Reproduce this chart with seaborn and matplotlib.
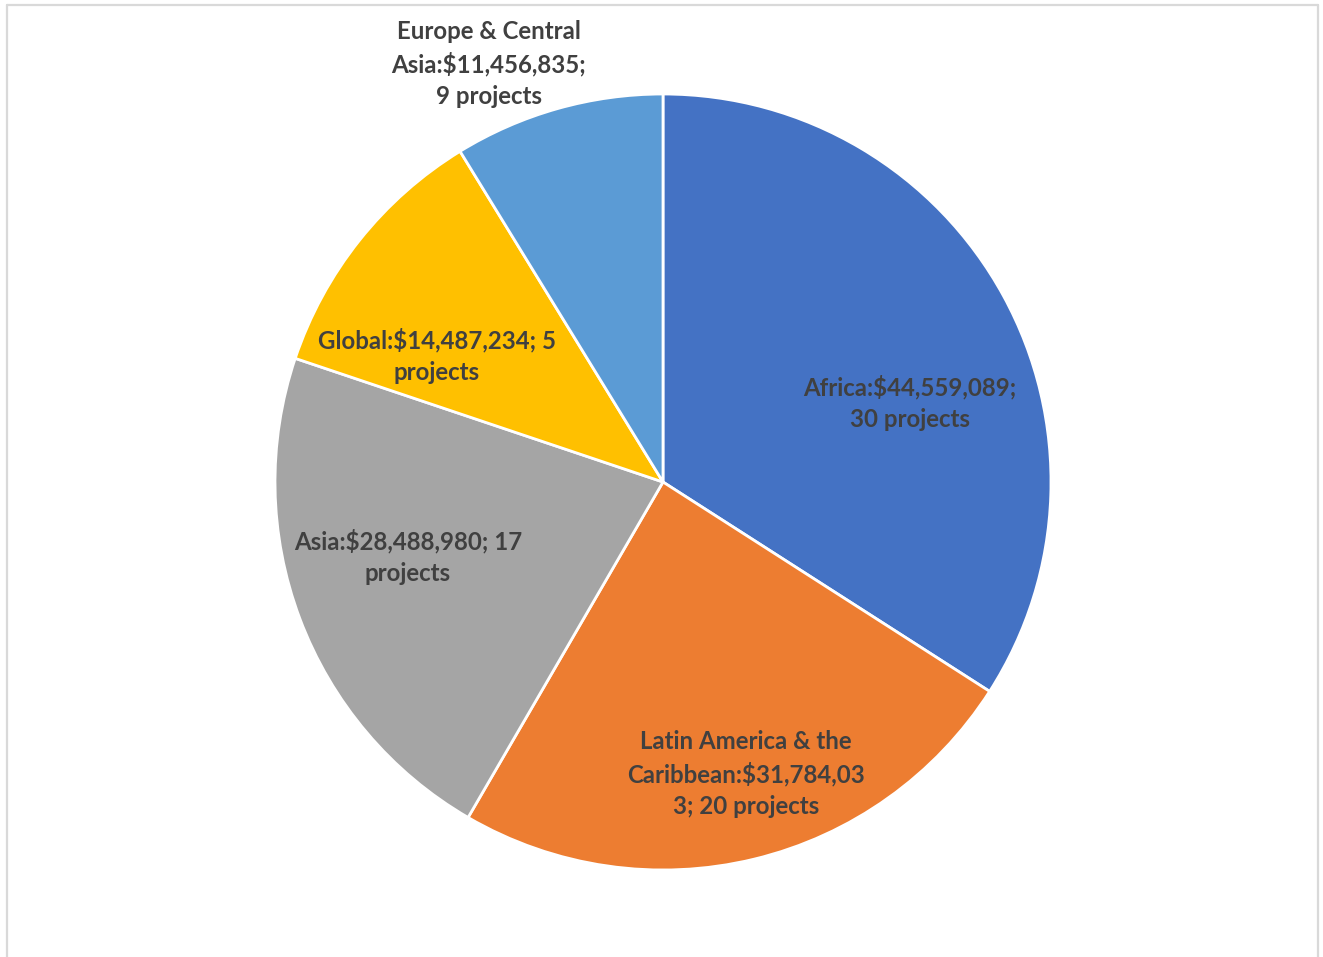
import matplotlib
matplotlib.use("Agg")
import matplotlib.pyplot as plt
import seaborn as sns
from matplotlib.lines import Line2D

regions = ["Africa", "Latin America & the Caribbean", "Asia", "Global", "Europe & Central Asia"]
funding = [44559089, 31784033, 28488980, 14487234, 11456835]
projects = [30, 20, 17, 5, 9]
label_texts = [
    "Africa:$44,559,089;\n30 projects",
    "Latin America & the\nCaribbean:$31,784,03\n3; 20 projects",
    "Asia:$28,488,980; 17\nprojects",
    "Global:$14,487,234; 5\nprojects",
    "Europe & Central\nAsia:$11,456,835;\n9 projects",
]
colors = ["#4472C4", "#ED7D31", "#A5A5A5", "#FFC000", "#5B9BD5"]

# label centres in pixel coordinates (x from left, y from top)
label_pos = [(910, 403), (746, 774), (408, 557), (437, 356), (489, 64)]

W, H = 1323, 957
sns.set_theme(style="white")
plt.rcParams["font.family"] = ["Lato", "DejaVu Sans"]

fig = plt.figure(figsize=(W / 100, H / 100), dpi=100)
ax = fig.add_axes([0, 0, 1, 1])

cx, cy, r = 663, 482, 388
ax.pie(funding, colors=sns.color_palette(colors), startangle=90, counterclock=False,
       center=(cx, H - cy), radius=r, frame=True,
       wedgeprops=dict(edgecolor="white", linewidth=2.0))
ax.set_xlim(0, W)
ax.set_ylim(0, H)
ax.set_aspect("equal")
ax.axis("off")

for txt, (lx, ly) in zip(label_texts, label_pos):
    ax.text(lx, H - ly, txt, ha="center", va="center", fontsize=17.3, fontweight="bold",
            color="#404040", linespacing=1.42)

# outer chart border
bc = "#D9D9D9"
fig.add_artist(Line2D([7 / W, 7 / W], [0, 1 - 5 / H], color=bc, lw=1.6, transform=fig.transFigure))
fig.add_artist(Line2D([7 / W, 1318 / W], [1 - 5 / H, 1 - 5 / H], color=bc, lw=1.6, transform=fig.transFigure))
fig.add_artist(Line2D([1318 / W, 1318 / W], [0, 1 - 5 / H], color=bc, lw=1.6, transform=fig.transFigure))

fig.savefig("out.png", dpi=100, facecolor="white")
